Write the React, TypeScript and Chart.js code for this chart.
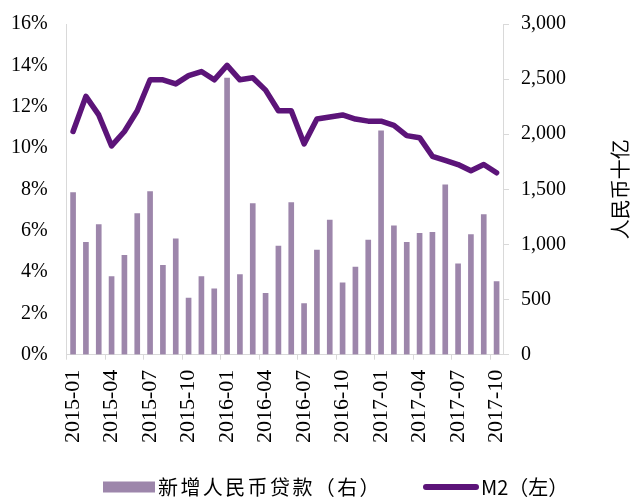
import React, { useEffect, useRef } from "react";
import { Chart, registerables } from "chart.js";

Chart.register(...registerables);

const months: string[] = [
  "2015-01","2015-02","2015-03","2015-04","2015-05","2015-06","2015-07","2015-08","2015-09","2015-10","2015-11","2015-12",
  "2016-01","2016-02","2016-03","2016-04","2016-05","2016-06","2016-07","2016-08","2016-09","2016-10","2016-11","2016-12",
  "2017-01","2017-02","2017-03","2017-04","2017-05","2017-06","2017-07","2017-08","2017-09","2017-10",
];

// 新增人民币贷款 (人民币十亿), right axis
const newLoans: number[] = [
  1470, 1020, 1180, 708, 901, 1280, 1480, 810, 1050, 514, 709, 598,
  2510, 727, 1370, 556, 985, 1380, 463, 949, 1220, 651, 795, 1040,
  2030, 1170, 1020, 1100, 1110, 1540, 825, 1090, 1270, 663,
];

// M2 同比 (%), left axis
const m2: number[] = [
  10.8, 12.5, 11.6, 10.1, 10.8, 11.8, 13.3, 13.3, 13.1, 13.5, 13.7, 13.3,
  14.0, 13.3, 13.4, 12.8, 11.8, 11.8, 10.2, 11.4, 11.5, 11.6, 11.4, 11.3,
  11.3, 11.1, 10.6, 10.5, 9.6, 9.4, 9.2, 8.9, 9.2, 8.8,
];

const loansLabel = "新增人民币贷款（右）";
const m2Label = "M2（左）";
const rightTitle = "人民币十亿";

const barColor = "#9d86ab";
const lineColor = "#5c1479";
const axisColor = "#d9d9d9";
const tickFont = { family: "'Liberation Serif', serif", size: 20 };
const xTickFont = { family: "'Liberation Serif', serif", size: 22 };
const cjkFont = "'Noto Sans CJK SC', sans-serif";

const trimVerticalPadding = (scale: any) => {
  scale.paddingTop = 12;
  scale.paddingBottom = 12;
};

export default function App() {
  const canvasRef = useRef<HTMLCanvasElement | null>(null);

  useEffect(() => {
    const canvas = canvasRef.current;
    if (!canvas) return;

    const extrasPlugin = {
      id: "extras",
      afterDraw(chart: any) {
        const ctx = chart.ctx as CanvasRenderingContext2D;
        const area = chart.chartArea;
        ctx.save();
        // right axis title, rotated -90
        ctx.fillStyle = "#000";
        ctx.font = `20px ${cjkFont}`;
        ctx.translate(chart.width - 13, (area.top + area.bottom) / 2);
        ctx.rotate(-Math.PI / 2);
        ctx.textAlign = "center";
        ctx.textBaseline = "middle";
        ctx.fillText(rightTitle, 0, 0);
        ctx.restore();

        // legend
        ctx.save();
        const ly = 487;
        ctx.fillStyle = barColor;
        ctx.fillRect(103, ly - 5.5, 52, 11);
        ctx.fillStyle = "#000";
        ctx.font = `20px ${cjkFont}`;
        ctx.textAlign = "left";
        ctx.textBaseline = "middle";
        (ctx as any).letterSpacing = "2.4px";
        ctx.fillText(loansLabel, 158, ly);
        (ctx as any).letterSpacing = "0px";
        ctx.strokeStyle = lineColor;
        ctx.lineWidth = 6;
        ctx.lineCap = "round";
        ctx.beginPath();
        ctx.moveTo(426, ly);
        ctx.lineTo(476, ly);
        ctx.stroke();
        ctx.fillStyle = "#000";
        ctx.fillText(m2Label, 481, ly);
        ctx.restore();
      },
    };

    const chart = new Chart(canvas, {
      type: "bar",
      data: {
        labels: months,
        datasets: [
          {
            type: "bar",
            label: loansLabel,
            data: newLoans,
            backgroundColor: barColor,
            barThickness: 5,
            yAxisID: "y1",
            order: 2,
          },
          {
            type: "line",
            label: m2Label,
            data: m2,
            borderColor: lineColor,
            backgroundColor: lineColor,
            borderWidth: 5.5,
            borderCapStyle: "round",
            borderJoinStyle: "round",
            pointRadius: 0,
            tension: 0,
            yAxisID: "y",
            order: 1,
          } as any,
        ],
      },
      options: {
        animation: false,
        responsive: false,
        maintainAspectRatio: false,
        layout: { padding: { left: -8, right: 55, top: 24, bottom: 45 } },
        plugins: {
          legend: { display: false },
          tooltip: { enabled: false },
        },
        scales: {
          x: {
            offset: true,
            grid: {
              display: true,
              offset: true,
              drawOnChartArea: false,
              drawTicks: true,
              tickLength: 5,
              tickColor: (c: any) => (c.index % 3 === 0 ? axisColor : "rgba(0,0,0,0)"),
            },
            border: { display: true, color: axisColor, width: 1 },
            ticks: {
              autoSkip: false,
              maxRotation: 90,
              minRotation: 90,
              padding: 10,
              color: "#000",
              font: xTickFont,
              callback: (_v: any, i: number) => (i % 3 === 0 ? months[i] : ""),
            },
          },
          y: {
            position: "left",
            min: 0,
            max: 16,
            afterFit: trimVerticalPadding,
            grid: { display: false, drawTicks: false },
            border: { display: true, color: axisColor, width: 1 },
            ticks: {
              stepSize: 2,
              padding: 19,
              color: "#000",
              font: tickFont,
              callback: (v: any) => `${v}%`,
            },
          },
          y1: {
            position: "right",
            min: 0,
            max: 3000,
            afterFit: trimVerticalPadding,
            grid: {
              display: true,
              drawOnChartArea: false,
              drawTicks: true,
              tickLength: 6,
              tickColor: axisColor,
            },
            border: { display: true, color: axisColor, width: 1 },
            ticks: {
              stepSize: 500,
              padding: 12,
              color: "#000",
              font: tickFont,
              callback: (v: any) => Number(v).toLocaleString("en-US"),
            },
          },
        },
      },
      plugins: [extrasPlugin],
    });

    return () => {
      chart.destroy();
    };
  }, []);

  return (
    <div style={{ position: "absolute", left: 0, top: 0, width: 633, height: 498, background: "#fff" }}>
      <canvas ref={canvasRef} width={633} height={498} style={{ display: "block", width: 633, height: 498 }} />
    </div>
  );
}
